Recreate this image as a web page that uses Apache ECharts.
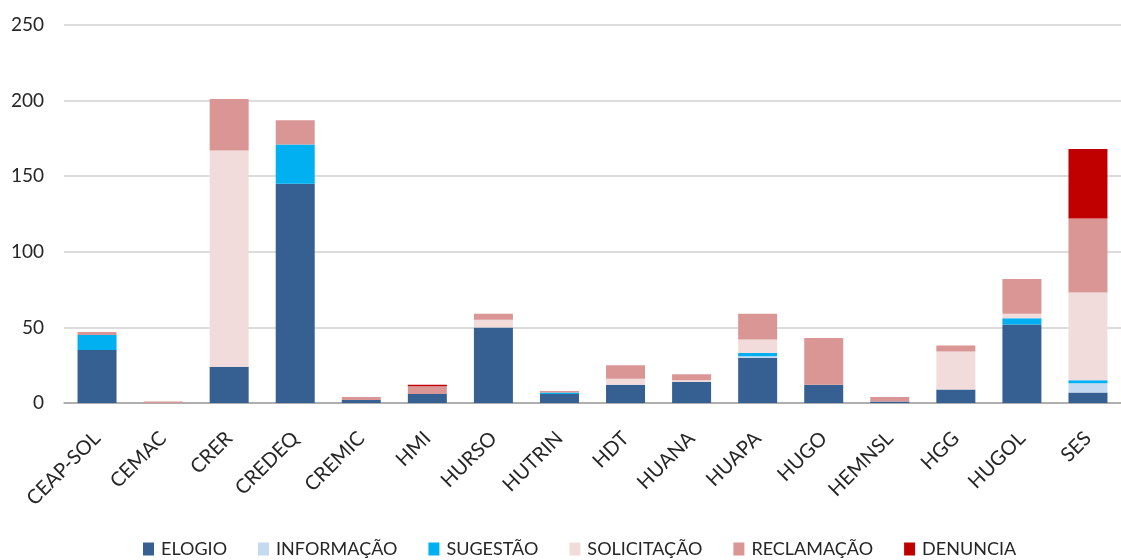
<!DOCTYPE html>
<html>
<head>
<meta charset="utf-8">
<script src="https://cdn.jsdelivr.net/npm/echarts@6/dist/echarts.min.js"></script>
<style>html,body{margin:0;padding:0;background:#fff}#c{width:1121px;height:560px}</style>
</head>
<body>
<div id="c"></div>
<script>
const categories = ['CEAP-SOL','CEMAC','CRER','CREDEQ','CREMIC','HMI','HURSO','HUTRIN','HDT','HUANA','HUAPA','HUGO','HEMNSL','HGG','HUGOL','SES'];
const elogio      = [35, 0, 24, 145, 2, 6, 50, 6, 12, 14, 30, 12, 1, 9, 52, 7];
const informacao  = [0, 0, 0, 0, 0, 0, 0, 0, 0, 0, 1, 0, 0, 0, 0, 6];
const sugestao    = [10, 0, 0, 26, 0, 0, 0, 1, 0, 0, 2, 0, 0, 0, 4, 2];
const solicitacao = [0, 0, 143, 0, 0, 0, 5, 0, 4, 1, 9, 0, 0, 25, 3, 58];
const reclamacao  = [2, 1, 34, 16, 2, 5, 4, 1, 9, 4, 17, 31, 3, 4, 23, 49];
const denuncia    = [0, 0, 0, 0, 0, 1, 0, 0, 0, 0, 0, 0, 0, 0, 0, 46];
const seriesNames = ['ELOGIO','INFORMAÇÃO','SUGESTÃO','SOLICITAÇÃO','RECLAMAÇÃO','DENUNCIA'];
const seriesData = [elogio, informacao, sugestao, solicitacao, reclamacao, denuncia];
const colors = ['#366092','#C5D9F1','#00B0F0','#F2DCDB','#DA9694','#C00000'];
const FONT = "Lato, 'Open Sans', sans-serif";

const chart = echarts.init(document.getElementById('c'), null, {renderer:'canvas'});
chart.setOption({
  animation: false,
  backgroundColor: '#fff',
  color: colors,
  grid: {left: 64, top: 25, width: 1066, height: 378, containLabel: false},
  legend: {
    left: 143, top: 540, padding: 0,
    itemWidth: 11, itemHeight: 13, itemGap: 31,
    icon: 'rect',
    textStyle: {fontFamily: FONT, fontSize: 18, color: '#262626', padding: [0,0,0,2]},
    data: seriesNames
  },
  xAxis: {
    type: 'category',
    data: categories,
    axisLine: {lineStyle: {color: '#a0a0a0', width: 1.5}},
    axisTick: {show: false},
    axisLabel: {rotate: 45, interval: 0, margin: 32,
      fontFamily: FONT, fontSize: 20, color: '#262626'}
  },
  yAxis: {
    type: 'value', min: 0, max: 250, interval: 50,
    axisLine: {show: false}, axisTick: {show: false},
    splitLine: {lineStyle: {color: '#d0d0d0', width: 1.5}},
    axisLabel: {margin: 20, fontFamily: FONT, fontSize: 19, color: '#262626'}
  },
  series: seriesNames.map((n, i) => ({
    name: n, type: 'bar', stack: 'total', barWidth: 39,
    data: seriesData[i]
  }))
});
</script>
</body>
</html>
